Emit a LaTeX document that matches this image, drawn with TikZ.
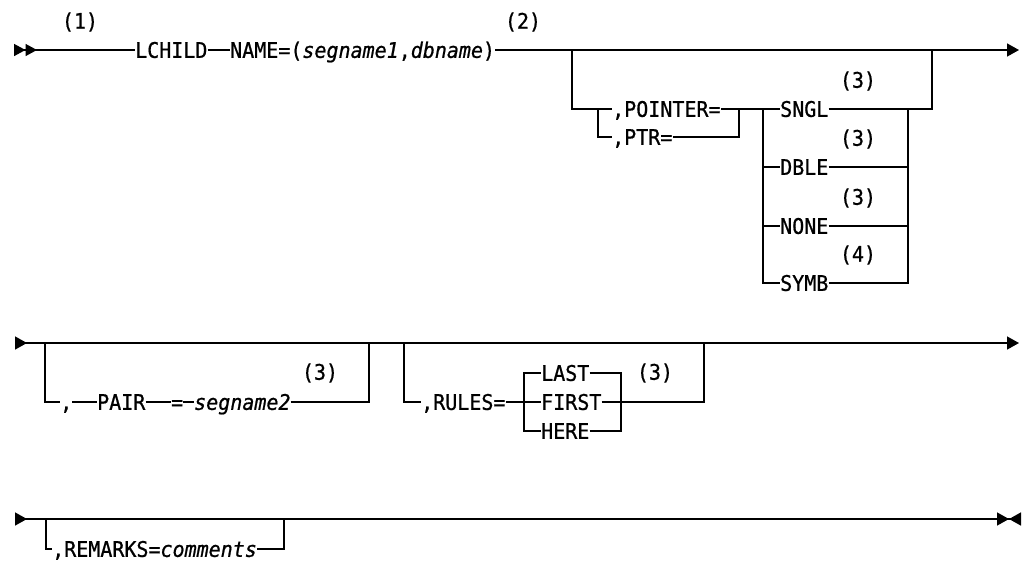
\documentclass[tikz,border=0pt]{standalone}
\usepackage{fontspec}
\usepackage{tikz}
\usetikzlibrary{arrows.meta,calc}
\newfontfamily\railfont[FakeStretch=0.93, FakeBold=0.8]{DejaVu Sans Mono}
\newcommand{\railtext}{\railfont\fontsize{21.5pt}{26pt}\selectfont}

\begin{document}
\begin{tikzpicture}[x=1pt, y=-1pt,
        Rail/.tip={Triangle[length=12pt, width=13pt]},
        Twin/.tip={Triangle[length=11.5pt, width=12pt]},
        rail/.style={line width=1.5pt, draw=black},
        kw/.style={font=\railtext, inner sep=0pt, text height=15.7pt, text depth=0pt, anchor=west},
        fnote/.style={font=\railtext, inner sep=0pt}]
      \useasboundingbox (0,0) rectangle (1024,563);
      % first line
      \coordinate (r1s) at (14,50);
      \coordinate (r1e) at (1019,50);
      \node[kw] (lchild) at (135,50) {LCHILD};
      \node[kw] (name) at (230,50) {NAME=(\textit{segname1},\textit{dbname})};
      \node[fnote] (n1) at (80,22) {(1)};
      \node[fnote] (n2) at (523,22) {(2)};
      \draw[rail, {Twin[reversed]Twin[reversed]}-] (r1s) -- (lchild.west);
      \draw[rail] (lchild.east) -- (name.west);
      \draw[rail, -Rail] (name.east) -- (r1e);
      \coordinate (g1l) at (572,50);
      \coordinate (g1r) at (932,50);
      \coordinate (psplit) at (598,109);
      \coordinate (pjoin) at (739,109);
      \coordinate (ssplit) at (763,109);
      \coordinate (sjoin) at (908,109);
      \node[kw] (pointer) at (612,109) {,POINTER=};
      \node[kw] (ptr) at (612,137) {,PTR=};
      \draw[rail] (g1l) |- (pointer.west);
      \draw[rail] (psplit) |- (ptr.west);
      \draw[rail] (pointer.east) -- (pjoin);
      \draw[rail] (ptr.east) -| (pjoin);
      \draw[rail] (pjoin) -- (ssplit);
      \foreach \y/\nm/\txt/\fn in {109/sngl/SNGL/3, 167/dble/DBLE/3, 226/none/NONE/3, 283/symb/SYMB/4}{
        \node[kw] (\nm) at (780,\y) {\txt};
        \node[fnote] (\nm note) at (858,\y-28) {(\fn)};
        \draw[rail] (ssplit) |- (\nm.west);
        \draw[rail] (\nm.east) -| (sjoin);
      }
      \draw[rail] (sjoin) -| (g1r);
      % second line
      \coordinate (r2s) at (15,343);
      \coordinate (r2e) at (1019,343);
      \draw[rail, {Rail[reversed]}-Rail] (r2s) -- (r2e);
      \coordinate (g2l) at (45,343);
      \coordinate (g2r) at (369,343);
      \node[kw] (comma) at (60,402) {,};
      \node[kw] (pair) at (97,402) {PAIR};
      \node[kw] (eq) at (171,402) {=};
      \node[kw] (seg2) at (194,402) {\textit{segname2}};
      \node[fnote] (pairnote) at (320,373) {(3)};
      \draw[rail] (g2l) |- (comma.west);
      \draw[rail] (comma.east) -- (pair.west);
      \draw[rail] (pair.east) -- (eq.west);
      \draw[rail] (eq.east) -- (seg2.west);
      \draw[rail] (seg2.east) -| (g2r);
      \coordinate (g3l) at (404,343);
      \coordinate (g3r) at (704,343);
      \coordinate (rsplit) at (524,402);
      \coordinate (rjoin) at (621,402);
      \node[kw] (rules) at (421,402) {,RULES=};
      \node[fnote] (rulesnote) at (655,373) {(3)};
      \draw[rail] (g3l) |- (rules.west);
      \draw[rail] (rules.east) -- (rsplit);
      \foreach \y/\nm/\txt in {373/last/LAST, 402/first/FIRST, 431/here/HERE}{
        \node[kw] (\nm) at (541,\y) {\txt};
        \draw[rail] (rsplit) |- (\nm.west);
        \draw[rail] (\nm.east) -| (rjoin);
      }
      \draw[rail] (rjoin) -| (g3r);
      % third line
      \coordinate (r3s) at (15,519);
      \coordinate (r3e) at (1021,519);
      \draw[rail, {Rail[reversed]}-{Rail[]Rail[reversed]}] (r3s) -- (r3e);
      \coordinate (g4l) at (46,519);
      \coordinate (g4r) at (284,519);
      \node[kw] (remarks) at (52,549) {,REMARKS=\textit{comments}};
      \draw[rail] (g4l) |- (remarks.west);
      \draw[rail] (remarks.east) -| (g4r);
    \end{tikzpicture}
\end{document}
